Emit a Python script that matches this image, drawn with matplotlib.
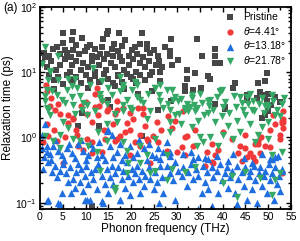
import numpy as np
import matplotlib
matplotlib.use('Agg')
import matplotlib.pyplot as plt
from matplotlib.ticker import MultipleLocator, LogLocator, NullFormatter

plt.rcParams['font.family'] = ['Liberation Sans', 'DejaVu Sans']
plt.rcParams['mathtext.fontset'] = 'custom'
plt.rcParams['mathtext.it'] = 'Liberation Sans:italic'
plt.rcParams['mathtext.rm'] = 'Liberation Sans'

# (frequency THz, relaxation time ps)
pristine = [
    (5, 40), (7.3, 41), (9.3, 33), (7, 31), (15, 43), (14.6, 38), (13.9, 32), (17.3, 40), (22.4, 40),
    (16.2, 27), (18.7, 31), (5, 28), (2.9, 23), (5.5, 22), (7.3, 22), (7.9, 26), (10.3, 24), (12, 23),
    (13.2, 19), (21.9, 27), (23.4, 23), (24.1, 20), (20.2, 22), (21.3, 19), (25.9, 18), (17.5, 17),
    (14.6, 19), (11.4, 18), (1.1, 17), (4.4, 19), (15.8, 23),
    (28.7, 32), (34.4, 32), (38.4, 23), (35.5, 18), (38.4, 18), (28.5, 17.6), (30.3, 15.2), (26.8, 12),
    (26.3, 10), (32.2, 10.7), (33.5, 5.3), (35.3, 5.8), (37.3, 8.0), (38.4, 13.7), (39.5, 13.7),
    (42.8, 6.8), (45.4, 4.4), (47.6, 4), (48.2, 4.9), (49.3, 7.4), (49.8, 9.6), (32.2, 7.8), (34, 9.6),
    (36.8, 8.7), (42.3, 5.7), (47.8, 6.8), (31.8, 6.1), (31.8, 5.1), (28.7, 3.6), (38.4, 3.2),
    (40.6, 2.9), (45.4, 3.8), (49.3, 4.4), (50, 4.7), (49.8, 3.6), (50.7, 3.1), (51.5, 4.2), (52.5, 3.5),
    (40.6, 2.7), (50, 2.5), (48.7, 2.0), (49.3, 2.2),
    (8.3, 1.5), (13, 1.5), (22.3, 1.05), (9.2, 2.4), (25.9, 2.6), (11.4, 0.09),
    (0.5, 14), (1.5, 12), (2.5, 15), (3.5, 11), (4.5, 13), (5.5, 16), (6.5, 10), (7, 13), (8, 15),
    (9, 11), (9.5, 14), (10.5, 12), (11.5, 15), (12, 10), (13, 13), (14, 16), (14.5, 11), (15.5, 14),
    (16.5, 12), (17, 9), (18, 15), (18.5, 11), (19.5, 13), (20.5, 16), (21, 10), (22, 14), (23, 12),
    (24, 15), (24.5, 10), (25.5, 13),
    (2, 9), (3, 7.5), (4, 8.5), (5, 6.5), (6, 9), (7, 7.5), (8, 8.5), (9, 6.8), (10, 9), (11, 7.6),
    (12, 8.7), (13, 7), (14, 9.3), (15, 8), (16, 6.9), (17, 8.8), (18, 7.2), (19, 9.5), (20, 8.3),
    (21, 6.8), (22, 9.2), (23, 7.6), (3, 5.5), (10.5, 5.8), (18.5, 5.5), (21.5, 4.6),
    (16.4, 6.1), (15, 3.7), (15.4, 2.9), (20.4, 8), (24.1, 9), (26.3, 7.3), (24.6, 5.1),
    (0.8, 20), (2, 18), (3.8, 24), (6, 20), (6.8, 17), (8.5, 19), (9.8, 21), (11, 26), (12.5, 17),
    (13.5, 24), (16, 18), (17, 21), (18, 25), (19.5, 18), (20.8, 24), (22.5, 17), (23.5, 27), (25, 22),
    (26, 15), (27.5, 24), (28.5, 21), (29, 13),
]

theta441 = [
    (1.3, 6.3), (1.5, 5.1), (12, 4.7), (13.6, 3.7), (16.9, 3.6), (22.6, 2.8), (12.5, 5.7), (12, 2.9),
    (6.2, 2.2), (7.3, 2.0), (3.3, 2.6), (18.2, 2.8), (19.7, 2.4), (21.5, 2.8), (22.6, 2.3),
    (1.5, 1.6), (4.4, 2.3), (7.3, 1.9), (10.3, 2.3), (11.4, 1.7), (12.7, 2.2), (14.6, 2.5), (16.4, 2.3),
    (16.9, 2.6), (19.7, 1.3), (18.6, 1.2), (17.5, 1.05), (21.9, 1.1), (20.8, 0.86), (23.7, 0.88),
    (25.6, 1.7), (11.4, 0.86), (14.3, 0.95), (16.4, 0.88), (1.8, 1.05), (0.7, 0.86), (8.1, 1.1),
    (13.6, 0.6), (19.7, 0.53), (25.9, 0.86),
    (3.7, 0.88), (6.2, 1.65), (8.3, 0.75), (10.3, 0.95), (11.4, 0.57), (16, 1.6), (16.9, 0.95),
    (19, 1.65), (21.9, 0.75), (23.4, 0.95), (5.1, 0.4), (24.1, 0.4),
    (31.4, 2.5), (32.2, 1.05), (30, 0.6), (31.8, 0.53), (36.6, 0.6), (37.7, 0.8), (38.4, 0.53),
    (45, 0.68), (46, 0.57), (47.1, 0.8), (47.8, 0.88), (49.3, 0.75), (53, 1.8), (52.6, 1.1),
    (28.1, 2.1), (28.9, 1.4), (27.8, 0.62), (45, 1.1), (51.5, 1.6), (53.3, 1.7), (53.3, 2.5),
    (24.8, 1.05), (31.8, 1.0), (31.1, 0.72), (33.6, 0.75), (36.2, 0.37), (38, 0.4), (43.4, 0.57),
    (45.4, 0.5), (46.7, 0.5), (48.2, 0.58), (50.4, 0.72), (53, 1.65), (53.3, 1.4), (52.6, 0.95),
    (47.8, 0.8), (43.9, 0.75), (37.7, 0.42), (44.3, 0.44), (47.1, 0.44), (53, 0.28), (53.3, 1.9),
    (34, 1.3), (40, 1.2), (42, 0.95), (26.5, 1.3), (29.5, 1.8), (39, 0.65), (50.5, 1.3), (51, 2.2),
    (48.5, 1.0), (4, 3.2), (9, 3.0), (2.5, 4.0), (7.8, 1.3), (3, 1.3), (5.5, 1.0), (9.5, 0.65),
    (14, 1.3), (20.5, 1.9), (23, 1.5), (2.2, 3.0), (10, 3.5), (13, 3.0), (15, 2.7),
]

theta1318 = [
    (0.7, 0.33), (1.8, 0.42), (2.6, 0.29), (3.3, 0.37), (3.7, 0.25), (4.4, 0.31), (4.8, 0.14),
    (5.1, 0.39), (5.8, 0.28), (6.2, 0.21), (6.6, 0.35), (6.9, 0.14), (7.3, 0.23), (7.7, 0.17),
    (8, 0.29), (8.4, 0.39), (8.8, 0.21), (9.1, 0.33), (9.5, 0.15), (9.9, 0.26), (10.2, 0.37),
    (10.6, 0.19), (11, 0.11), (11.3, 0.29), (11.7, 0.23), (12.1, 0.33), (12.4, 0.16), (12.8, 0.39),
    (13.5, 0.26), (13.9, 0.10), (14.3, 0.19), (14.6, 0.33), (15, 0.14), (15.4, 0.25), (15.7, 0.37),
    (16.1, 0.19), (16.4, 0.28), (17.2, 0.35), (17.5, 0.11), (17.9, 0.23), (18.3, 0.31), (18.6, 0.17),
    (19, 0.42), (19.4, 0.26), (19.7, 0.13), (20.1, 0.33), (20.5, 0.21), (20.8, 0.28), (21.2, 0.37),
    (21.6, 0.23), (21.9, 0.14), (22.3, 0.31), (22.7, 0.18), (23, 0.26), (23.8, 0.35), (24.1, 0.23),
    (24.9, 0.16), (25.2, 0.29), (25.6, 0.21), (26.3, 0.37), (26.7, 0.25), (27, 0.14),
    (1.8, 0.11), (4.4, 0.095), (9.9, 0.11), (17.5, 0.11), (26, 0.10),
    (0.4, 0.68), (1.5, 0.6), (2.9, 0.75), (4, 0.62), (4.8, 0.53), (5.9, 0.68), (7, 0.57), (8.4, 0.8),
    (9.5, 0.62), (10.6, 0.53), (11.7, 0.68), (13.5, 0.53), (15, 1.3), (15.7, 1.1), (15.4, 0.75),
    (16.8, 0.6), (18.6, 0.53), (19.7, 0.75), (21.2, 0.57), (22.7, 0.68), (24.5, 0.53), (25.9, 0.68),
    (26.3, 0.46), (2.2, 0.56), (1.5, 0.75), (14.6, 1.27), (0.4, 1.1), (1.1, 1.6),
    (0.8, 0.5), (2.5, 0.45), (3.3, 0.9), (5.3, 0.45), (6.3, 0.8), (7.7, 0.48), (9, 0.9), (10, 0.45),
    (11, 0.8), (12.4, 0.5), (13, 0.85), (14.2, 0.45), (16, 0.5), (17.6, 0.8), (18, 0.45), (20.4, 0.5),
    (21.7, 0.9), (23.5, 0.45), (24, 0.8), (25.5, 0.5), (27, 0.6),
    (27.8, 0.37), (28.5, 0.28), (29.2, 0.22), (29.6, 0.42), (30.3, 0.31), (31.1, 0.26), (31.4, 0.35),
    (32.2, 0.18), (32.5, 0.29), (33.2, 0.39), (33.6, 0.23), (34.3, 0.33), (34.7, 0.26), (35.4, 0.14),
    (35.8, 0.37), (36.2, 0.21), (36.5, 0.29), (36.9, 0.16), (37.6, 0.35), (38, 0.25), (38.7, 0.31),
    (39.1, 0.14), (39.5, 0.39), (39.8, 0.22), (40.6, 0.28), (40.9, 0.35), (41.3, 0.17), (41.7, 0.25),
    (42, 0.31), (42.8, 0.14), (43.1, 0.37), (43.5, 0.23), (44.2, 0.29), (44.6, 0.18), (44.9, 0.35),
    (45.3, 0.11), (45.7, 0.26), (46, 0.31), (46.4, 0.16), (46.8, 0.37), (47.1, 0.22), (47.5, 0.10),
    (47.9, 0.28), (48.2, 0.35), (48.6, 0.18), (49, 0.26), (49.3, 0.31), (49.7, 0.14), (50.1, 0.39),
    (50.4, 0.22), (50.8, 0.28), (51.2, 0.11), (51.5, 0.35), (51.9, 0.19), (52.3, 0.26), (52.6, 0.15),
    (53, 0.33), (29.6, 0.11), (37.6, 0.09), (43.1, 0.095), (34.7, 0.081),
    (27.8, 0.86), (28.5, 0.6), (33.2, 0.6), (34.7, 0.5), (36.9, 0.47), (50.8, 0.47), (51.5, 0.5),
    (28.5, 0.52), (31.4, 0.56), (33.6, 0.46), (36.2, 0.49), (38.7, 0.52), (41.3, 0.44), (42.4, 0.56),
    (44.6, 0.49), (46.4, 0.41), (48.6, 0.56), (50.4, 0.46), (52.2, 0.52), (53, 0.31),
    (4, 0.1), (1.5, 0.105), (10.3, 0.11), (13.5, 0.105),
]

theta2178 = [
    (1.1, 24), (0.4, 13.5), (2.2, 10), (1.8, 7.5), (4, 18), (5.9, 5.3), (7, 4.1), (11, 6.3), (7.7, 8),
    (8.1, 5.7), (10.3, 3.1), (13.2, 4.7), (15.8, 4.4), (18.2, 5.7), (19, 3.7), (21.3, 4.1), (20.8, 7),
    (17.5, 8.3), (1.5, 5.3), (1.5, 2.8), (4.8, 3.7), (9.2, 2.6), (14.7, 3.3), (2.2, 2.2), (10.3, 2.2),
    (16.4, 2.3), (20.2, 2.6), (22.6, 3.4),
    (2.2, 10.5), (4, 7.5), (6.1, 8), (7, 6.1), (2.6, 5.1), (3.7, 4.4), (1.1, 4.3), (1.1, 3.6),
    (8.8, 4.3), (9.4, 3.4), (11.6, 11.5), (13.6, 7.3), (13.2, 4), (15, 5.7), (17.5, 5.1), (18.3, 6.3),
    (20.2, 5.3), (21.3, 6.3), (21.9, 3.7), (23.7, 4.7), (25.2, 5.7), (26.3, 3.6), (18.3, 3.1),
    (19.7, 2.8), (13.6, 3.6), (7.3, 3.1), (5.5, 3.4),
    (29, 5.3), (27.8, 5.3), (30.3, 3.6), (33.3, 4), (33.3, 4.4), (36.8, 3.6), (39.5, 5.1),
    (40.1, 2.9), (44.3, 3.4), (46.1, 4.7), (46.7, 3.6), (48.7, 4), (49.3, 3.0), (34.4, 2.8),
    (35.5, 3.4), (31.8, 2.8), (45.4, 4.1), (43.9, 4.1), (50.9, 4.4), (49.8, 3.1), (25.2, 5.7),
    (26.3, 6.3), (29.2, 3.7), (32.2, 3.3), (37.3, 3.7), (32.9, 2.9), (39.5, 5), (39.9, 5.3),
    (28.5, 2.6), (29.6, 2.2), (31.8, 2.6), (34, 2.5), (34.7, 1.8), (36.8, 2.4), (38.4, 1.7),
    (39.9, 2.1), (41.2, 1.5), (43.2, 1.8), (45, 2.2), (46.5, 2.6), (46.1, 1.6), (48.7, 1.45),
    (50, 1.7), (51.5, 2.2), (33.3, 1.45), (31, 1.6), (28.5, 1.7), (35.1, 1.0), (35.7, 0.86),
    (37.3, 1.0), (40.1, 1.1), (42.3, 0.95), (43.9, 1.2), (47.8, 1.1), (47.1, 0.86), (50, 0.95),
    (53, 0.6), (50.9, 0.53), (28.5, 1.2), (27.8, 0.53), (34.4, 0.75), (39, 0.75),
    (1.8, 2.6), (5.1, 1.7), (7.7, 2.3), (12, 2.5), (14.6, 1.6), (18.3, 2.5), (16.9, 1.7), (24.1, 2.5),
    (23.4, 1.9), (1.1, 1.05), (2.9, 0.88), (4.4, 1.1), (7.3, 0.95), (8.8, 0.88), (10.5, 0.75),
    (12.5, 0.6), (14.6, 0.88), (18.3, 0.86), (19, 0.62), (21.9, 0.75), (25.2, 0.95), (23.4, 0.53),
    (4.4, 0.68), (6.1, 1.4), (12.7, 1.2),
    (16.4, 0.17), (13.2, 0.31), (16.4, 0.15), (19.3, 0.4), (19, 0.28), (21.9, 0.4), (24.1, 0.28),
    (25.2, 0.31), (28.9, 0.33), (31.8, 0.3), (34, 0.35), (40.1, 0.2), (42.1, 0.26), (43.2, 0.12),
    (45, 0.3), (48.2, 0.24), (50.9, 0.13), (52.6, 0.28), (51.5, 0.22), (27.8, 0.22),
    (26, 4.5), (27, 2.8), (28, 3.2), (29.5, 4.2), (30.5, 2.3), (31, 3.9), (32.5, 2.5), (33.8, 3.1),
    (35, 4.6), (36, 2.2), (37, 3.0), (38, 2.6), (38.8, 4.2), (40.5, 3.5), (41.5, 2.4), (42.5, 4.3),
    (43, 2.9), (44.5, 2.6), (45.5, 3.3), (47, 2.5), (48, 3.2), (49, 2.4), (50, 2.9), (51, 3.6),
    (52, 2.6), (53, 3.2), (52.5, 2.1), (53.5, 4.0),
]

series = [
    (pristine, 's', '#474747', 'Pristine', 19),
    (theta441, 'o', '#f03a3a', r'$\it{\theta}$=4.41°', 20),
    (theta1318, '^', '#1f6ee0', r'$\it{\theta}$=13.18°', 28),
    (theta2178, 'v', '#36a866', r'$\it{\theta}$=21.78°', 28),
]

fig = plt.figure(figsize=(3.0, 2.41), dpi=100)
ax = fig.add_axes([0.133, 0.133, 0.837, 0.838])

for pts, mk, col, lab, s in series:
    arr = np.array(pts)
    ax.scatter(arr[:, 0], arr[:, 1], marker=mk, s=s, c=col, linewidths=0, label=lab)

ax.set_yscale('log')
ax.set_xlim(0, 55)
ax.set_ylim(0.08, 100)
ax.xaxis.set_major_locator(MultipleLocator(5))
ax.xaxis.set_minor_locator(MultipleLocator(2.5))
ax.yaxis.set_major_locator(LogLocator(base=10, numticks=10))
ax.yaxis.set_minor_locator(LogLocator(base=10, subs=np.arange(2, 10), numticks=10))
ax.yaxis.set_minor_formatter(NullFormatter())
ax.tick_params(which='both', direction='in', top=True, right=True, labelsize=7.5, width=1, pad=2)
ax.tick_params(which='major', length=3.5)
ax.tick_params(which='minor', length=2)
for sp in ax.spines.values():
    sp.set_linewidth(1.3)

ax.set_xlabel('Phonon frequency (THz)', fontsize=8.5, labelpad=1)
ax.set_ylabel('Relaxation time (ps)', fontsize=8.5, labelpad=1)
fig.text(0.01, 0.965, '(a)', fontsize=8.5, va='center')

ax.legend(loc='upper right', frameon=False, fontsize=7.5, handletextpad=0.6,
          labelspacing=0.25, borderaxespad=0.1, handlelength=1.2, markerscale=1.0)

fig.savefig('out.png', dpi=100)
